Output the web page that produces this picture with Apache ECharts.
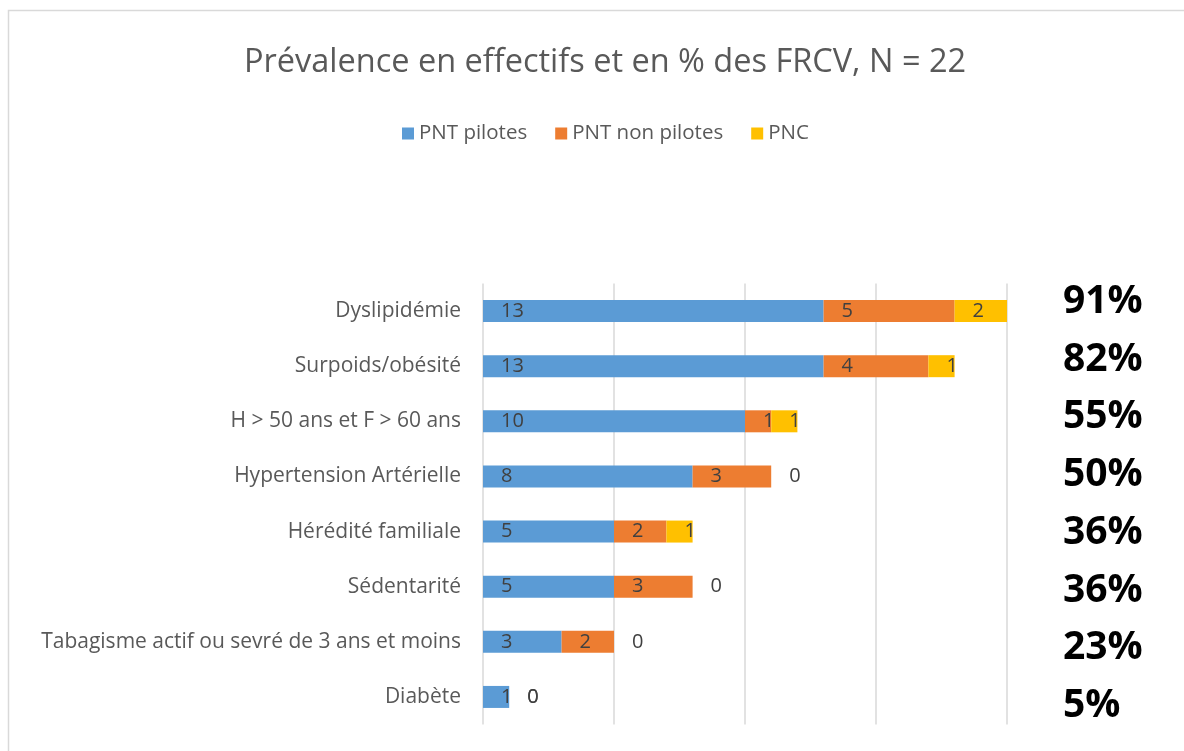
<!DOCTYPE html>
<html>
<head>
    <meta charset="utf-8">
    <title>FRCV</title>
    <script src="https://cdn.jsdelivr.net/npm/echarts@6/dist/echarts.min.js"></script>
    <style>
        html, body { margin: 0; padding: 0; background: #fff; }
    </style>
</head>
<body>
<div id="main" style="width: 1184px;height:751px;"></div>

<script type="text/javascript">
    // données
    var categories = ['Dyslipidémie', 'Surpoids/obésité', 'H > 50 ans et F > 60 ans', 'Hypertension Artérielle',
        'Hérédité familiale', 'Sédentarité', 'Tabagisme actif ou sevré de 3 ans et moins', 'Diabète'];
    var pntPilotes = [13, 13, 10, 8, 5, 5, 3, 1];
    var pntNonPilotes = [5, 4, 1, 3, 2, 3, 2, 0];
    var pnc = [2, 1, 1, 0, 1, 0, 0, 0];
    var pourcentages = ['91%', '82%', '55%', '50%', '36%', '36%', '23%', '5%'];

    var police = '"Open Sans", Lato, sans-serif';

    var etiquette = {
        show: true,
        position: 'insideLeft',
        distance: 18,
        color: '#404040',
        fontSize: 20,
        fontFamily: police
    };

    var myChart = echarts.init(document.getElementById('main'));

    var option = {
        backgroundColor: '#fff',
        animation: false,
        title: {
            text: 'Prévalence en effectifs et en % des FRCV, N = 22',
            left: 600,
            textAlign: 'center',
            top: 41,
            textStyle: {
                color: '#595959',
                fontSize: 32.5,
                fontWeight: 'normal',
                fontFamily: police
            }
        },
        graphic: [{
            type: 'rect',
            shape: { x: 8.5, y: 10.5, width: 1300, height: 1000 },
            style: { fill: 'none', stroke: '#d9d9d9', lineWidth: 1.5 },
            silent: true
        }],
        legend: {
            data: ['PNT pilotes', 'PNT non pilotes', 'PNC'],
            left: 397,
            top: 118,
            icon: 'rect',
            itemWidth: 12,
            itemHeight: 12,
            itemGap: 28,
            textStyle: {
                color: '#595959',
                fontSize: 20.5,
                fontFamily: police
            }
        },
        grid: [{
            left: 483,
            right: 177,
            top: 283.5,
            bottom: 26.5
        }, {
            left: 483,
            right: 177,
            top: 273,
            bottom: 16
        }],
        xAxis: [{
            type: 'value',
            min: 0,
            max: 20,
            interval: 5,
            axisLabel: { show: false },
            axisLine: { show: false },
            axisTick: { show: false },
            splitLine: { lineStyle: { color: '#d9d9d9', width: 1.5 } }
        }, {
            type: 'value',
            gridIndex: 1,
            min: 0,
            max: 20,
            show: false
        }],
        yAxis: [{
            type: 'category',
            data: categories,
            inverse: true,
            axisLine: { show: false },
            axisTick: { show: false },
            axisLabel: {
                margin: 22,
                color: '#595959',
                fontSize: 21,
                fontFamily: police
            }
        }, {
            type: 'category',
            gridIndex: 1,
            data: pourcentages,
            inverse: true,
            position: 'right',
            axisLine: { show: false },
            axisTick: { show: false },
            splitLine: { show: false },
            axisLabel: {
                margin: 56,
                align: 'left',
                color: '#000',
                fontSize: 39,
                fontWeight: 'bold',
                fontFamily: police
            }
        }],
        series: [{
            name: 'PNT pilotes',
            type: 'bar',
            stack: 'total',
            barWidth: 22,
            itemStyle: { color: '#5B9BD5' },
            label: etiquette,
            data: pntPilotes
        }, {
            name: 'PNT non pilotes',
            type: 'bar',
            stack: 'total',
            barWidth: 22,
            itemStyle: { color: '#ED7D31' },
            label: etiquette,
            data: pntNonPilotes
        }, {
            name: 'PNC',
            type: 'bar',
            stack: 'total',
            barWidth: 22,
            itemStyle: { color: '#FFC000' },
            label: etiquette,
            data: pnc
        }]
    };

    myChart.setOption(option);
</script>
</body>
</html>
